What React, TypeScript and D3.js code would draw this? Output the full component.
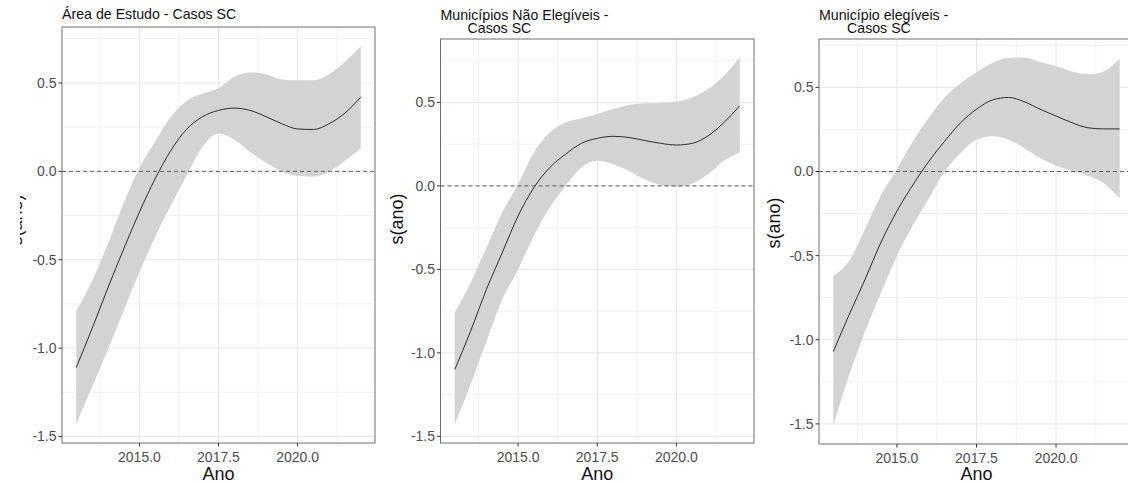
import React from "react";
import * as d3 from "d3";

// ---------- data ----------
const YEARS = [2013, 2013.5, 2014, 2014.5, 2015, 2015.5, 2016, 2016.5, 2017, 2017.5, 2018, 2018.5, 2019, 2019.5, 2020, 2020.5, 2021, 2021.5, 2022];

const TITLE_1 = ["Área de Estudo - Casos SC"];
const FIT_1 = [-1.11, -0.89, -0.66, -0.44, -0.23, -0.04, 0.12, 0.24, 0.31, 0.345, 0.358, 0.345, 0.31, 0.27, 0.24, 0.237, 0.27, 0.33, 0.42];
const UPPER_1 = [-0.79, -0.62, -0.41, -0.18, 0.02, 0.17, 0.31, 0.4, 0.44, 0.47, 0.535, 0.56, 0.55, 0.52, 0.515, 0.515, 0.55, 0.62, 0.71];
const LOWER_1 = [-1.43, -1.22, -1.01, -0.79, -0.57, -0.37, -0.19, -0.02, 0.14, 0.215, 0.18, 0.11, 0.05, 0.0, -0.025, -0.03, 0.0, 0.06, 0.13];

const TITLE_2 = ["Municípios Não Elegíveis -", "Casos SC"];
const FIT_2 = [-1.1, -0.87, -0.62, -0.4, -0.18, -0.01, 0.11, 0.19, 0.255, 0.285, 0.297, 0.29, 0.272, 0.255, 0.245, 0.255, 0.3, 0.38, 0.48];
const UPPER_2 = [-0.76, -0.58, -0.37, -0.16, 0.01, 0.2, 0.32, 0.38, 0.405, 0.43, 0.46, 0.485, 0.495, 0.497, 0.505, 0.53, 0.58, 0.66, 0.77];
const LOWER_2 = [-1.43, -1.19, -0.93, -0.68, -0.5, -0.3, -0.13, 0.0, 0.11, 0.15, 0.13, 0.09, 0.04, 0.005, -0.005, 0.015, 0.07, 0.15, 0.2];

const TITLE_3 = ["Município elegíveis -", "Casos SC"];
const FIT_3 = [-1.07, -0.85, -0.64, -0.42, -0.235, -0.08, 0.06, 0.18, 0.29, 0.37, 0.425, 0.44, 0.415, 0.37, 0.33, 0.29, 0.26, 0.253, 0.253];
const UPPER_3 = [-0.62, -0.53, -0.34, -0.14, 0.015, 0.18, 0.32, 0.44, 0.525, 0.59, 0.645, 0.675, 0.678, 0.65, 0.625, 0.595, 0.578, 0.595, 0.67];
const LOWER_3 = [-1.51, -1.21, -0.95, -0.72, -0.5, -0.32, -0.16, 0.0, 0.11, 0.19, 0.21, 0.19, 0.14, 0.08, 0.035, 0.005, -0.025, -0.07, -0.16];

const X_MAJOR = [2015, 2017.5, 2020];
const X_MINOR = [2013.75, 2016.25, 2018.75, 2021.25];
const Y_MAJOR = [-1.5, -1.0, -0.5, 0.0, 0.5];
const Y_MINOR = [-1.25, -0.75, -0.25, 0.25, 0.75];
const X_LABEL = "Ano";
const Y_LABEL = "s(ano)";

// ---------- layout ----------
const W = 1128;
const H = 483;
const FONT = "'Liberation Sans', Arial, Helvetica, sans-serif";
const TICK_FS = 14;
const AXIS_FS = 18;
const TITLE_FS = 14.2;

const PANELS = [
  { title: TITLE_1, fit: FIT_1, upper: UPPER_1, lower: LOWER_1, left: 62, top: 27, right: 375, bottom: 443, titleY: 19, line2Dx: 0, yTitleX: 22, yTitleY: 220, clipLeft: 20 },
  { title: TITLE_2, fit: FIT_2, upper: UPPER_2, lower: LOWER_2, left: 440.5, top: 39, right: 754, bottom: 443, titleY: 19.5, line2Dx: 27, yTitleX: 403, yTitleY: 219, clipLeft: 0 },
  { title: TITLE_3, fit: FIT_3, upper: UPPER_3, lower: LOWER_3, left: 819, top: 39, right: 1134, bottom: 444, titleY: 19.5, line2Dx: 28, yTitleX: 780, yTitleY: 223, clipLeft: 0 },
];

function Panel({ p, idx }: { p: any; idx: number }) {
  const xExt = d3.extent(YEARS) as [number, number];
  const xPad = (xExt[1] - xExt[0]) * 0.05;
  const x = d3.scaleLinear().domain([xExt[0] - xPad, xExt[1] + xPad]).range([p.left, p.right]);
  const yLo = d3.min(p.lower as number[]) as number;
  const yHi = d3.max(p.upper as number[]) as number;
  const yPad = (yHi - yLo) * 0.05;
  const y = d3.scaleLinear().domain([yLo - yPad, yHi + yPad]).range([p.bottom, p.top]);
  const [d0, d1] = y.domain();

  const rows = YEARS.map((yr, i) => ({ yr, fit: p.fit[i], up: p.upper[i], lo: p.lower[i] }));
  const area = d3.area<any>().x((d) => x(d.yr)).y0((d) => y(d.lo)).y1((d) => y(d.up)).curve(d3.curveMonotoneX);
  const line = d3.line<any>().x((d) => x(d.yr)).y((d) => y(d.fit)).curve(d3.curveMonotoneX);

  const yMaj = Y_MAJOR.filter((v) => v >= d0 && v <= d1);
  const yMin = Y_MINOR.filter((v) => v >= d0 && v <= d1);
  const clipId = `yclip${idx}`;
  return (
    <g>
      {/* grid */}
      {X_MINOR.map((v) => (
        <line key={"xm" + v} x1={x(v)} x2={x(v)} y1={p.top} y2={p.bottom} stroke="#f1f1f1" strokeWidth={1} />
      ))}
      {yMin.map((v) => (
        <line key={"ym" + v} x1={p.left} x2={p.right} y1={y(v)} y2={y(v)} stroke="#f1f1f1" strokeWidth={1} />
      ))}
      {X_MAJOR.map((v) => (
        <line key={"xM" + v} x1={x(v)} x2={x(v)} y1={p.top} y2={p.bottom} stroke="#e6e6e6" strokeWidth={1} />
      ))}
      {yMaj.map((v) => (
        <line key={"yM" + v} x1={p.left} x2={p.right} y1={y(v)} y2={y(v)} stroke="#e6e6e6" strokeWidth={1} />
      ))}
      {/* ribbon + fit */}
      <path d={area(rows) || ""} fill="#d3d3d3" stroke="none" />
      <line x1={p.left} x2={p.right} y1={y(0)} y2={y(0)} stroke="#5e5e5e" strokeWidth={1} strokeDasharray="4 3" />
      <path d={line(rows) || ""} fill="none" stroke="#1a1a1a" strokeWidth={0.9} />
      {/* border */}
      <rect x={p.left} y={p.top} width={p.right - p.left} height={p.bottom - p.top} fill="none" stroke="#6e6e6e" strokeWidth={1} />
      {/* y axis */}
      {yMaj.map((v) => (
        <g key={"yt" + v}>
          <line x1={p.left - 3.5} x2={p.left} y1={y(v)} y2={y(v)} stroke="#333" strokeWidth={1} />
          <text x={p.left - 5.5} y={y(v)} dy="0.35em" textAnchor="end" fontSize={TICK_FS} fill="#4d4d4d">
            {v.toFixed(1)}
          </text>
        </g>
      ))}
      {/* x axis */}
      {X_MAJOR.map((v) => (
        <g key={"xt" + v}>
          <line x1={x(v)} x2={x(v)} y1={p.bottom} y2={p.bottom + 3.5} stroke="#333" strokeWidth={1} />
          <text x={x(v)} y={p.bottom + 19} textAnchor="middle" fontSize={TICK_FS} fill="#4d4d4d">
            {v.toFixed(1)}
          </text>
        </g>
      ))}
      <text x={(p.left + p.right) / 2} y={480} textAnchor="middle" fontSize={AXIS_FS} fill="#111">
        {X_LABEL}
      </text>
      {/* y title */}
      <clipPath id={clipId}>
        <rect x={p.clipLeft} y={0} width={W} height={H} />
      </clipPath>
      <g clipPath={`url(#${clipId})`}>
        <text transform={`translate(${p.yTitleX},${p.yTitleY}) rotate(-90)`} textAnchor="middle" fontSize={AXIS_FS} fill="#111">
          {Y_LABEL}
        </text>
      </g>
      {/* title */}
      {p.title.map((t: string, i: number) => (
        <text key={"t" + i} x={p.left + (i === 0 ? 0 : p.line2Dx)} y={p.titleY + i * 13.5} fontSize={TITLE_FS} fill="#111">
          {t}
        </text>
      ))}
    </g>
  );
}

export default function App() {
  return (
    <svg
      width={W}
      height={H}
      viewBox={`0 0 ${W} ${H}`}
      style={{ position: "absolute", left: 0, top: 0, display: "block", background: "#fff", fontFamily: FONT }}
    >
      <rect x={0} y={0} width={W} height={H} fill="#fff" />
      {PANELS.map((p, i) => (
        <Panel key={i} p={p} idx={i} />
      ))}
    </svg>
  );
}
